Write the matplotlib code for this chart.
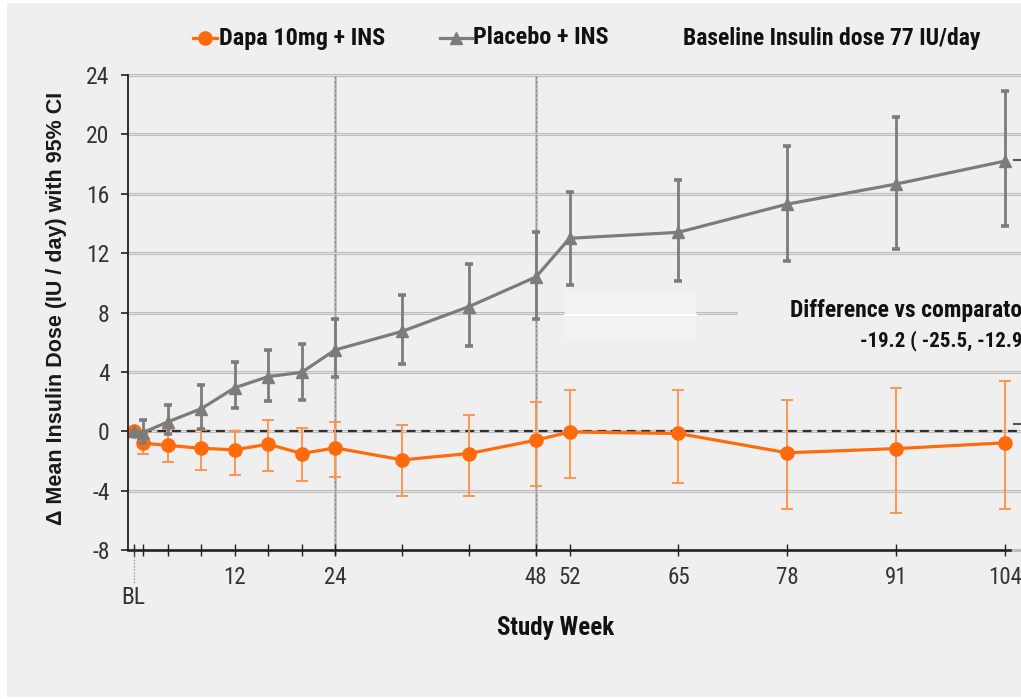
import matplotlib
matplotlib.use("Agg")
import matplotlib.pyplot as plt
from matplotlib.lines import Line2D
from matplotlib.patches import Rectangle
import numpy as np

# ---------------- data ----------------
weeks = [0, 1, 4, 8, 12, 16, 20, 24, 32, 40, 48, 52, 65, 78, 91, 104]

dapa_mean = [0.0, -0.8, -0.95, -1.15, -1.25, -0.87, -1.5, -1.12, -1.93, -1.5, -0.6, -0.05, -0.15, -1.45, -1.17, -0.78]
dapa_low = [0.0, -1.5, -2.05, -2.6, -2.95, -2.65, -3.38, -3.1, -4.33, -4.33, -3.67, -3.16, -3.5, -5.22, -5.5, -5.22]
dapa_high = [0.0, -0.1, 0.15, 0.1, 0.05, 0.75, 0.25, 0.62, 0.44, 1.1, 2.0, 2.78, 2.78, 2.1, 2.9, 3.4]

plac_mean = [0.0, -0.1, 0.63, 1.52, 2.93, 3.68, 3.97, 5.48, 6.73, 8.4, 10.4, 13.0, 13.4, 15.3, 16.65, 18.2]
plac_low = [0.0, -0.8, -0.2, 0.18, 1.55, 2.02, 2.11, 3.68, 4.5, 5.77, 7.56, 9.86, 10.1, 11.5, 12.25, 13.8]
plac_high = [0.0, 0.74, 1.75, 3.13, 4.65, 5.48, 5.9, 7.56, 9.2, 11.25, 13.4, 16.1, 16.9, 19.2, 21.2, 22.9]

xtick_pos = [0, 1, 4, 8, 12, 16, 20, 24, 32, 40, 48, 52, 65, 78, 91, 104]
xtick_lab = ["", "", "", "", "12", "", "", "24", "", "", "48", "52", "65", "78", "91", "104"]
ytick_pos = [-8, -4, 0, 4, 8, 12, 16, 20, 24]
vlines_weeks = [24, 48]

legend_labels = ["Dapa 10mg + INS", "Placebo + INS"]
baseline_text = "Baseline Insulin dose 77 IU/day"
diff_line1 = "Difference vs comparator"
diff_line2 = "-19.2 ( -25.5, -12.9)"
ylabel = "\u0394 Mean Insulin Dose (IU / day) with 95% CI"
xlabel = "Study Week"

# ---------------- fonts ----------------
NARROW = dict(family=["Roboto Condensed", "DejaVu Sans"])
WIDE = dict(family=["Liberation Sans", "DejaVu Sans"])

ORANGE = "#ff6a0a"
ORANGE_ERR = "#ff9450"
GRAY = "#7c7c7c"
BG = "#efefef"
TXT = "#333333"

W, H = 1021, 699
def fx(px):
    return px / W
def fy(py):
    return 1 - py / H

fig = plt.figure(figsize=(W / 100, H / 100), dpi=100, facecolor="white")
fig.patches.append(Rectangle((fx(7), fy(697)), 1 - fx(7), fy(3) - fy(697),
                             transform=fig.transFigure, facecolor=BG, edgecolor="none", zorder=-10))

# axes: week -> px = 134.3 + 8.37*w ; left spine at px 127.7
x_left = (127.7 - 134.3) / 8.37
x_right = (W - 134.3) / 8.37
ax = fig.add_axes([fx(127.7), fy(550), 1 - fx(127.7), fy(75) - fy(550)])
ax.set_facecolor("none")
ax.set_xlim(x_left, x_right)
ax.set_ylim(-8, 24)

# horizontal gridlines
for yv in ytick_pos:
    if yv == -8:
        continue
    ax.axhline(yv, color="#bdbdbd", lw=2.2, zorder=1, clip_on=False)
    ax.axhline(yv, color="#e4e4e4", lw=0.7, zorder=1.1, clip_on=False)
ax.axhline(-8, color="#bdbdbd", lw=2.2, zorder=1, clip_on=False)

# vertical dashed lines
for wv in vlines_weeks:
    ax.plot([wv, wv], [-8.3, 24], color="#b5b5b5", lw=1.8, zorder=1, clip_on=False)
    ax.plot([wv, wv], [-8.3, 24], color="#8a8a8a", lw=0.8, ls=(0, (2, 2)), zorder=1.1, clip_on=False)

# annotation background boxes covering gridline
fig.patches.append(Rectangle((fx(738), fy(352)), fx(W) - fx(738), fy(296) - fy(352),
                             transform=fig.transFigure, facecolor=BG, edgecolor="none", zorder=0.5))
fig.patches.append(Rectangle((fx(565), fy(338)), fx(696) - fx(565), fy(292) - fy(338),
                             transform=fig.transFigure, facecolor="#f3f3f3", edgecolor="none", zorder=0.5))
fig.lines.append(Line2D([fx(565), fx(696)], [fy(315), fy(315)], transform=fig.transFigure,
                        color="white", lw=1.5, zorder=0.6))

# zero reference line
ax.axhline(0, color="#303030", lw=1.6, ls=(0, (4, 2.6)), zorder=2)

# series
d_mean = np.array(dapa_mean)
d_err = [d_mean - np.array(dapa_low), np.array(dapa_high) - d_mean]
p_mean = np.array(plac_mean)
p_err = [p_mean - np.array(plac_low), np.array(plac_high) - p_mean]

ax.errorbar(weeks[1:], d_mean[1:], yerr=[d_err[0][1:], d_err[1][1:]], fmt="none",
            ecolor=ORANGE_ERR, elinewidth=1.4, capsize=4.5, capthick=1.4, zorder=3)
ax.plot(weeks, d_mean, color=ORANGE, lw=2.3, marker="o", markersize=9.5,
        markeredgecolor=ORANGE, zorder=4)

ax.errorbar(weeks[1:], p_mean[1:], yerr=[p_err[0][1:], p_err[1][1:]], fmt="none",
            ecolor=GRAY, elinewidth=2.0, capsize=3.0, capthick=2.6, zorder=5)
ax.plot(weeks, p_mean, color=GRAY, lw=2.3, marker="^", markersize=9,
        markeredgecolor=GRAY, zorder=6)

# spines
for s in ["top", "right"]:
    ax.spines[s].set_visible(False)
ax.spines["left"].set_color("#202020")
ax.spines["left"].set_linewidth(1.3)
ax.spines["bottom"].set_color("#202020")
ax.spines["bottom"].set_linewidth(1.8)
ax.spines["bottom"].set_bounds(x_left, 104.6)
ax.spines["left"].set_zorder(7)
ax.spines["bottom"].set_zorder(7)

ax.set_xticks(xtick_pos)
ax.set_xticklabels(xtick_lab, fontsize=16.5, color=TXT, **NARROW)
ax.tick_params(axis="x", direction="inout", length=9, width=1.0, color="#202020", pad=7)
ax.set_yticks(ytick_pos)
ax.set_yticklabels([str(v) for v in ytick_pos], fontsize=17, color=TXT, **NARROW)
ax.tick_params(axis="y", direction="out", length=5, width=1.2, color="#202020", pad=8)

# BL label with dotted connector
ax.plot([0, 0], [-8, -10.3], color="#8a8a8a", lw=0.9, ls=(0, (1, 1.5)), clip_on=False, zorder=2)
fig.text(fx(133), fy(597), "BL", fontsize=17, color=TXT, ha="center", va="center", **NARROW)

# axis labels
fig.text(fx(556), fy(628), xlabel, fontsize=18, fontweight="bold", color="#111111",
         ha="center", va="center", **NARROW)
fig.text(fx(57), fy(308), ylabel, fontsize=15.5, fontweight="bold", color="#1a1a1a",
         rotation=90, ha="center", va="center", **WIDE)

# legend (manual)
ly = fy(38)
fig.lines.append(Line2D([fx(193), fx(217)], [ly, ly], transform=fig.transFigure, color=ORANGE, lw=2.3))
fig.lines.append(Line2D([fx(205)], [ly], transform=fig.transFigure, color=ORANGE, marker="o",
                        markersize=9.5, lw=0))
fig.text(fx(219), ly, legend_labels[0], fontsize=17.5, fontweight="bold", color="#111111",
         ha="left", va="center", **NARROW)
fig.lines.append(Line2D([fx(440), fx(472)], [ly, ly], transform=fig.transFigure, color=GRAY, lw=2.3))
fig.lines.append(Line2D([fx(456)], [ly], transform=fig.transFigure, color=GRAY, marker="^",
                        markersize=9, lw=0))
fig.text(fx(473), ly, legend_labels[1], fontsize=17.5, fontweight="bold", color="#111111",
         ha="left", va="center", **NARROW)
fig.text(fx(683), ly, baseline_text, fontsize=17, fontweight="bold", color="#111111",
         ha="left", va="center", **NARROW)

# difference annotation (clipped by figure edge, as in the original)
fig.text(fx(790), fy(310), diff_line1, fontsize=17, fontweight="bold", color="#111111",
         ha="left", va="center", **NARROW)
fig.text(fx(860), fy(341), diff_line2, fontsize=15, fontweight="bold", color="#111111",
         ha="left", va="center", **NARROW)

# small dash marks at right edge
for py in [160, 424]:
    fig.lines.append(Line2D([fx(1014), fx(1021)], [fy(py), fy(py)], transform=fig.transFigure,
                            color="#555555", lw=1.5))

fig.savefig("out.png", dpi=100, facecolor="white")
